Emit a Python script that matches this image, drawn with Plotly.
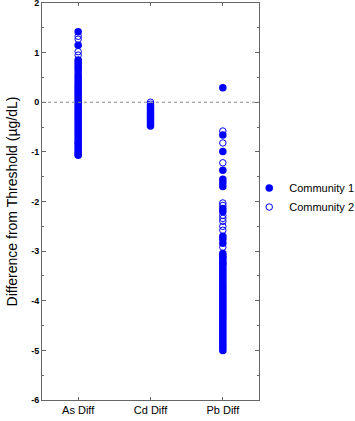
import plotly.graph_objects as go

categories = ["As Diff", "Cd Diff", "Pb Diff"]

as_c1 = [1.42, 1.15, 0.85, 0.80, 0.75, 0.70, 0.65, 0.55, 0.50, 0.45, 0.40, 0.35, 0.30,
         0.25, 0.20, 0.15, 0.10, 0.05, 0.00, -0.05, -0.10, -0.15, -0.20, -0.25, -0.30,
         -0.35, -0.40, -0.45, -0.50, -0.55, -0.60, -0.65, -0.70, -0.75, -0.80, -0.86,
         -0.90, -0.95, -1.00, -1.04, -1.07]
as_c2 = [1.33, 1.27, 1.02, 0.95, 0.60, -0.83]

cd_c1 = [-0.08, -0.12, -0.16, -0.20, -0.24, -0.28, -0.32, -0.36, -0.40, -0.44, -0.48]
cd_c2 = [0.00, -0.04]

pb_c1 = [0.29, -0.66, -0.99, -1.37, -1.55, -1.62, -1.70, -2.14, -2.20, -2.70, -2.76, -2.84,
         -3.05, -3.10, -3.15, -3.20, -3.25, -3.30, -3.35, -3.40, -3.45, -3.50, -3.55, -3.60,
         -3.65, -3.70, -3.75, -3.80, -3.85, -3.90, -3.95, -4.00, -4.05, -4.10, -4.15, -4.20,
         -4.25, -4.30, -4.35, -4.40, -4.45, -4.50, -4.55, -4.60, -4.65, -4.70, -4.75, -4.80,
         -4.85, -4.90, -4.95, -5.00]
pb_c2 = [-0.58, -0.82, -1.22, -2.03, -2.08, -2.28, -2.34, -2.40, -2.50, -2.58, -2.92,
         -3.12, -3.25]

y_ticks = [2, 1, 0, -1, -2, -3, -4, -5, -6]
y_tick_labels = ["2", "1", "0", "-1", "-2", "-3", "-4", "-5", "-6"]

BLUE = "#0000ff"

c1_x = [categories[0]] * len(as_c1) + [categories[1]] * len(cd_c1) + [categories[2]] * len(pb_c1)
c1_y = as_c1 + cd_c1 + pb_c1
c2_x = [categories[0]] * len(as_c2) + [categories[1]] * len(cd_c2) + [categories[2]] * len(pb_c2)
c2_y = as_c2 + cd_c2 + pb_c2

fig = go.Figure()
fig.add_trace(go.Scatter(x=c1_x, y=c1_y, mode="markers", name="Community 1",
                         marker=dict(symbol="circle", size=7.5, color=BLUE, line=dict(width=0))))
fig.add_trace(go.Scatter(x=c2_x, y=c2_y, mode="markers", name="Community 2",
                         marker=dict(symbol="circle-open", size=6.5, color=BLUE, line=dict(width=1, color=BLUE))))

fig.add_shape(type="line", xref="paper", yref="y", x0=0, x1=1, y0=0, y1=0,
              line=dict(color="#888888", width=1, dash="dot"))

axis_color = "#666666"
fig.update_layout(
    width=355, height=421,
    margin=dict(l=42, r=96, t=3, b=21, autoexpand=False),
    paper_bgcolor="white", plot_bgcolor="white",
    font=dict(family="Liberation Sans, Arial, sans-serif", color="black"),
    showlegend=True,
    legend=dict(x=0.955, xanchor="left", y=0.51, yanchor="middle",
                font=dict(size=11), tracegroupgap=0, itemwidth=30,
                bgcolor="rgba(0,0,0,0)"),
    xaxis=dict(type="category", categoryorder="array", categoryarray=categories,
               range=[-0.5, 2.5], showline=True, linecolor=axis_color, linewidth=1,
               mirror="ticks", ticks="inside", ticklen=3, tickcolor=axis_color,
               tickfont=dict(size=11), showgrid=False, zeroline=False, automargin=False),
    yaxis=dict(range=[-6, 2], tickvals=y_ticks, ticktext=y_tick_labels,
               showline=True, linecolor=axis_color, linewidth=1, mirror="ticks",
               ticks="inside", ticklen=4, tickcolor=axis_color,
               minor=dict(dtick=0.5, ticks="inside", ticklen=2, tickcolor=axis_color),
               tickfont=dict(size=9, weight="bold"), ticklabeloverflow="allow",
               title=dict(text="Difference from Threshold (µg/dL)", font=dict(size=14), standoff=10),
               showgrid=False, zeroline=False, automargin=False),
)

fig.write_html("out.html", config={"displayModeBar": False},
               post_script="document.body.style.margin='0';")
